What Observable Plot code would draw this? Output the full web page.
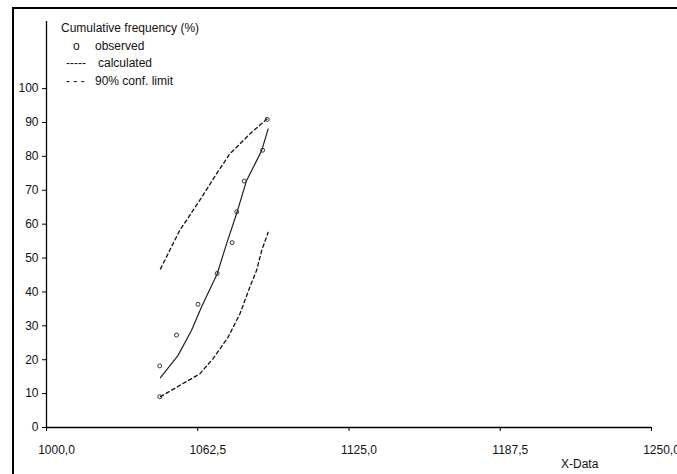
<!DOCTYPE html>
<html>
<head>
<meta charset="utf-8">
<script src="https://cdn.jsdelivr.net/npm/d3@7"></script>
<script src="https://cdn.jsdelivr.net/npm/@observablehq/plot@0.6"></script>
<style>
  html, body { margin: 0; padding: 0; background: #fff; }
  #wrap { position: relative; width: 677px; height: 474px; overflow: hidden;
          font-family: "Liberation Sans", Arial, sans-serif; font-size: 12px; color: #111; }
  #frame { position: absolute; left: 12px; top: 7px; right: -10px; bottom: -10px;
           border-left: 2px solid #000; border-top: 2px solid #000; pointer-events: none; }
  .lg { position: absolute; white-space: pre; line-height: 14px; }
  #chart { position: absolute; left: 0; top: 0; }
</style>
</head>
<body>
<div id="wrap">
  <div id="chart"></div>
  <div id="frame"></div>
  <div id="legend"></div>
  <div class="lg" id="xlabel" style="left:561px; top:457px;">X-Data</div>
</div>
<script>
// Observed cumulative frequencies
const obsX = [1046.8, 1046.8, 1053.7, 1062.6, 1070.5, 1076.7, 1078.6, 1081.7, 1089.3, 1091.2];
const obsY = [9.09, 18.18, 27.27, 36.36, 45.45, 54.55, 63.64, 72.73, 81.82, 90.91];

// Calculated curve
const calcX = [1047.1, 1054.3, 1059.9, 1064.0, 1070.5, 1074.4, 1078.5, 1082.7, 1088.9, 1091.6];
const calcY = [14.7, 21.2, 28.6, 35.5, 45.3, 54.2, 63.0, 72.9, 81.7, 88.1];

// 90% confidence limits
const upX = [1047.1, 1055.0, 1063.3, 1070.2, 1075.7, 1084.0, 1091.2];
const upY = [46.8, 58.1, 67.0, 74.8, 80.7, 86.6, 91.1];
const loX = [1047.1, 1055.0, 1063.3, 1068.8, 1075.0, 1079.9, 1084.0, 1086.8, 1088.9, 1091.6];
const loY = [9.1, 12.4, 15.8, 20.3, 26.6, 33.5, 41.4, 46.3, 52.2, 57.6];

// Ticks
const xTicks = [1000, 1062.5, 1125, 1187.5, 1250];
const yTicks = [0, 10, 20, 30, 40, 50, 60, 70, 80, 90, 100];

// Legend text
const legendTitle = "Cumulative frequency (%)";
const legendItems = [
  {sym: "o", label: "observed"},
  {sym: "-----", label: "calculated"},
  {sym: "- - -", label: "90% conf. limit"}
];

const zip = (xs, ys) => xs.map((x, i) => ({x, y: ys[i]}));
const obs = zip(obsX, obsY);
const calc = zip(calcX, calcY);
const up = zip(upX, upY);
const lo = zip(loX, loY);
const fmt = d => d.toFixed(1).replace(".", ",");

const chart = Plot.plot({
  width: 677,
  height: 474,
  marginLeft: 46,
  marginRight: 26,
  marginTop: 21,
  marginBottom: 47,
  style: {fontFamily: "Liberation Sans, Arial, sans-serif", fontSize: "12px", color: "#111", background: "transparent"},
  x: {domain: [1000, 1250]},
  y: {domain: [0, 119.8]},
  marks: [
    Plot.axisX(xTicks, {tickSize: 4, tickFormat: () => "", label: null, stroke: "#000"}),
    Plot.axisX(xTicks, {tickSize: 0, tickPadding: 18, dx: 10, tickFormat: fmt, label: null}),
    Plot.axisY(yTicks, {tickSize: 4, tickPadding: 4, label: null, stroke: "#000"}),
    Plot.ruleY([0], {stroke: "#000", strokeWidth: 1.3}),
    Plot.ruleX([1000], {stroke: "#000", strokeWidth: 1.3}),
    Plot.line(up, {x: "x", y: "y", stroke: "#111", strokeWidth: 1.3, strokeDasharray: "3.5,3"}),
    Plot.line(lo, {x: "x", y: "y", stroke: "#111", strokeWidth: 1.3, strokeDasharray: "3.5,3"}),
    Plot.line(calc, {x: "x", y: "y", stroke: "#222", strokeWidth: 1.2}),
    Plot.dot(obs, {x: "x", y: "y", r: 2, stroke: "#333", strokeWidth: 1, fill: "none"})
  ]
});
document.getElementById("chart").appendChild(chart);

// Legend overlay
const lg = document.getElementById("legend");
const rows = [
  {left: 61, top: 21, text: legendTitle}
];
const symLeft = [73, 66, 66];
const labLeft = [95, 98, 95];
const rowTop = [39, 56, 74];
legendItems.forEach((d, i) => {
  rows.push({left: symLeft[i], top: rowTop[i], text: d.sym});
  rows.push({left: labLeft[i], top: rowTop[i], text: d.label});
});
rows.forEach(r => {
  const s = document.createElement("div");
  s.className = "lg";
  s.style.left = r.left + "px";
  s.style.top = r.top + "px";
  s.textContent = r.text;
  lg.appendChild(s);
});
</script>
</body>
</html>
